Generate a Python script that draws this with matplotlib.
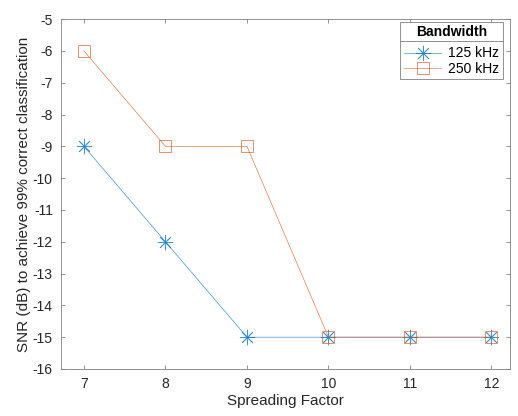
import matplotlib.pyplot as plt
from matplotlib.lines import Line2D

plt.rcParams["font.family"] = ["Liberation Sans", "DejaVu Sans"]
plt.rcParams["axes.unicode_minus"] = False

spreading_factor = [7, 8, 9, 10, 11, 12]
snr_125 = [-9, -12, -15, -15, -15, -15]
snr_250 = [-6, -9, -9, -15, -15, -15]
y_ticks = list(range(-16, -4))

blue = "#0072BD"
orange = "#D95319"
grey = "#262626"
edge = "#808080"

fig = plt.figure(figsize=(5.18, 4.16), dpi=100)
ax = fig.add_axes([0.118, 0.113, 0.867, 0.841])

ax.plot(spreading_factor, snr_125, color=blue, lw=0.5, marker=(8, 2, 0),
        ms=11, mew=0.6, alpha=0.75, label="125 kHz")
ax.plot(spreading_factor, snr_250, color=orange, lw=0.5, marker="s",
        ms=9, mfc="none", mew=0.6, alpha=0.75, label="250 kHz")

ax.set_xlim(6.72, 12.23)
ax.set_ylim(-16, -5)
ax.set_xticks(spreading_factor)
ax.set_yticks(y_ticks)
ax.tick_params(direction="in", top=True, right=True, length=3,
               width=0.6, colors=edge, labelsize=10, labelcolor=grey, pad=6)
for s in ax.spines.values():
    s.set_color(edge)
    s.set_linewidth(0.6)

ax.set_xlabel("Spreading Factor", fontsize=11, color=grey, labelpad=2)
ax.set_ylabel("SNR (dB) to achieve 99% correct classification",
              fontsize=11, color=grey, labelpad=1)

leg = ax.legend(loc="upper right", bbox_to_anchor=(503 / 518, 1 - 22 / 416),
                bbox_transform=fig.transFigure, borderaxespad=0,
                title="Bandwidth", fontsize=10,
                title_fontproperties={"weight": "bold", "size": 10},
                fancybox=False, framealpha=1, edgecolor=edge,
                handlelength=2.7, handletextpad=0.5, borderpad=0.25,
                labelspacing=0.1)
leg.get_frame().set_linewidth(0.6)
leg._legend_box.sep = 5

# separator line under the legend title, like MATLAB
fig.canvas.draw()
fb = leg.get_frame().get_window_extent()
tb = leg.get_title().get_window_extent()
inv = fig.transFigure.inverted()
y_sep = tb.y0 - 2
(x0, ys), (x1, _) = inv.transform([(fb.x0, y_sep), (fb.x1, y_sep)])
fig.add_artist(Line2D([x0, x1], [ys, ys], color=edge, lw=0.6))

fig.savefig("out.png", dpi=100)
